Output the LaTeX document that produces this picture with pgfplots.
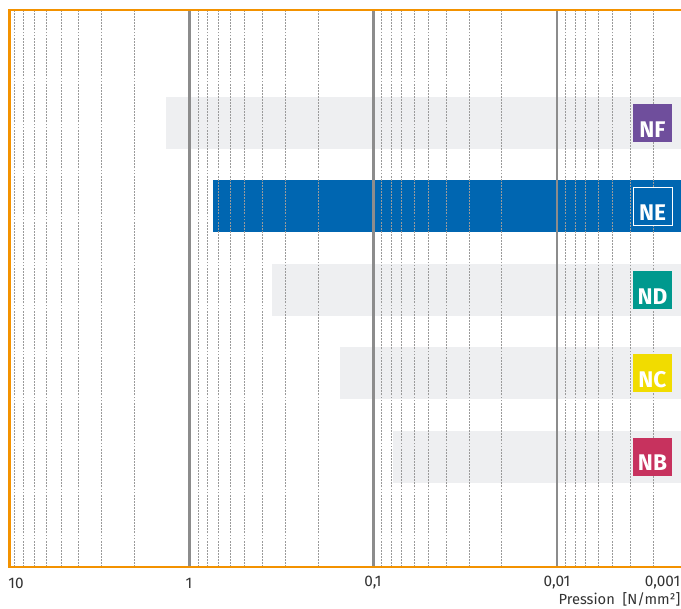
\documentclass[border=0pt]{standalone}
\usepackage{pgfplots}
\pgfplotsset{compat=1.18}
\usepackage{fontspec}
\setmainfont{Fira Sans}
\definecolor{orangeb}{HTML}{F39200}
\definecolor{bargray}{HTML}{EEEFF1}
\definecolor{neblue}{HTML}{0066B1}
\definecolor{nfpurple}{HTML}{6F4E9C}
\definecolor{ndteal}{HTML}{00998E}
\definecolor{ncyellow}{HTML}{F1DC00}
\definecolor{nbred}{HTML}{C7325E}
\definecolor{majgrid}{HTML}{8C8C8C}
\definecolor{mingrid}{HTML}{9A9A9A}
\definecolor{ticktext}{HTML}{333333}
\begin{document}
\begin{tikzpicture}
\useasboundingbox (-7.1pt,-30.75pt) rectangle (503.6pt,425.25pt);
\begin{axis}[
  at={(0,0)}, anchor=south west,
  scale only axis, width=503.6pt, height=417.75pt,
  xmode=log, x dir=reverse,
  xmin=0.00212, xmax=9.55,
  ymin=-0.324, ymax=6.354,
  axis line style={draw=none},
  tick style={draw=none},
  xtick={1,0.1,0.01},
  minor xtick={9,8,7,6,5,4,3,2,0.9,0.8,0.7,0.6,0.5,0.4,0.3,0.2,0.09,0.08,0.07,0.06,0.05,0.04,0.03,0.02,0.009,0.008,0.007,0.006,0.005,0.004,0.003},
  xticklabels={}, ytick=\empty,
  xmajorgrids, xminorgrids,
  major grid style={majgrid, line width=1.9pt},
  minor grid style={mingrid, line width=0.65pt, dash pattern=on 1.4pt off 0.9pt},
  axis on top,
]
\addplot[fill=bargray, draw=none, mark=none] coordinates {(1.35,4.6875)(0.00212,4.6875)(0.00212,5.3125)(1.35,5.3125)};
\addplot[fill=neblue, draw=none, mark=none] coordinates {(0.75,3.6875)(0.00212,3.6875)(0.00212,4.3125)(0.75,4.3125)};
\addplot[fill=bargray, draw=none, mark=none] coordinates {(0.354,2.6875)(0.00212,2.6875)(0.00212,3.3125)(0.354,3.3125)};
\addplot[fill=bargray, draw=none, mark=none] coordinates {(0.151,1.6875)(0.00212,1.6875)(0.00212,2.3125)(0.151,2.3125)};
\addplot[fill=bargray, draw=none, mark=none] coordinates {(0.0778,0.6875)(0.00212,0.6875)(0.00212,1.3125)(0.0778,1.3125)};
\coordinate (nf) at (axis cs:0.00303,5);
\coordinate (ne) at (axis cs:0.00303,4);
\coordinate (nd) at (axis cs:0.00303,3);
\coordinate (nc) at (axis cs:0.00303,2);
\coordinate (nb) at (axis cs:0.00303,1);
\end{axis}
\draw[orangeb, line width=1.9pt] (503.6pt,0pt) -- (0pt,0pt) -- (0pt,417.75pt) -- (503.6pt,417.75pt);
\tikzset{lbox/.style={minimum width=29.25pt, minimum height=28.5pt, inner sep=0pt}}
\tikzset{ltext/.style={text=white, font=\fontsize{17}{17}\selectfont\bfseries, anchor=base, inner sep=0pt}}
\foreach \c/\col/\t in {nf/nfpurple/NF, nd/ndteal/ND, nc/ncyellow/NC, nb/nbred/NB}{
  \node[lbox, fill=\col] (b\c) at (\c) {};
  \node[ltext] at ([yshift=3.7pt]b\c.south) {\t};
}
\node[lbox, fill=neblue, draw=white, line width=0.7pt] (bne) at (ne) {};
\node[ltext] at ([yshift=3.7pt]bne.south) {NE};
\tikzset{tl/.style={text=ticktext, font=\fontsize{11.5}{12}\selectfont, inner sep=0pt}}
\node[tl, anchor=west] at (-1pt,-12pt) {10};
\node[tl] at (134.6pt,-12pt) {1};
\node[tl] at (272.6pt,-12pt) {0,1};
\node[tl] at (410.6pt,-12pt) {0,01};
\node[tl, anchor=east] at (503.2pt,-12pt) {0,001};
\node[tl, anchor=east, font=\fontsize{11}{12}\selectfont] at (503.2pt,-24pt) {Pression\ \ [N/mm²]};
\end{tikzpicture}
\end{document}
